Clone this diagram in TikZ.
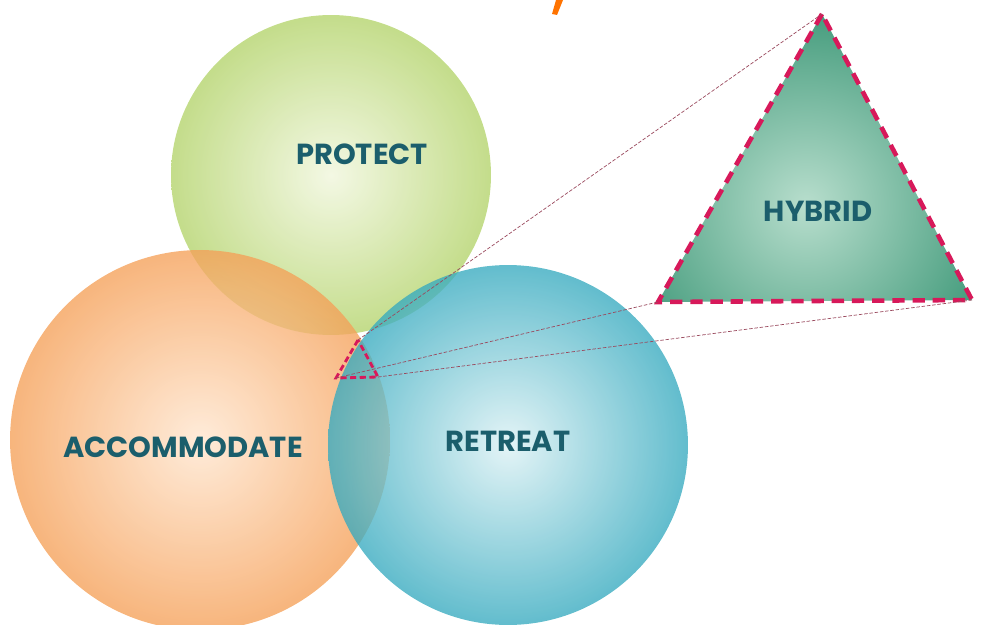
\documentclass[tikz,border=0pt]{standalone}
\usepackage{fontspec}
\newfontfamily\labelfont{Poppins}
\usetikzlibrary{calc}
\definecolor{protectout}{HTML}{B3D36A}
\definecolor{protectin}{HTML}{F0F6DC}
\definecolor{accomout}{HTML}{F5A058}
\definecolor{accomin}{HTML}{FFE6CF}
\definecolor{retreatout}{HTML}{36AABF}
\definecolor{retreatin}{HTML}{DCF1F4}
\definecolor{hybridout}{HTML}{3E9878}
\definecolor{hybridin}{HTML}{B8DECD}
\definecolor{labelteal}{HTML}{1B5E6C}
\definecolor{dashred}{HTML}{D7195A}
\definecolor{zoomline}{HTML}{9A4A5E}
\tikzset{
	vennlabel/.style={font=\labelfont\bfseries\fontsize{16.5}{16.5}\selectfont, text=labelteal},
	venncircle/.style={fill opacity=0.78},
	hybridedge/.style={draw=dashred, line width=2.6pt, dash pattern=on 7pt off 4.5pt, line join=miter},
	zoomray/.style={draw=zoomline, line width=0.4pt, dash pattern=on 2pt off 1pt}
}

\begin{document}
\begin{tikzpicture}[x=0.02cm, y=-0.02cm]
			%%%%% START %%%%%
			\useasboundingbox (0, 0) rectangle (987, 625);
			
			\shade[venncircle, inner color=protectin, outer color=protectout] (331, 175) circle (3.2cm);
			\shade[venncircle, inner color=accomin, outer color=accomout] (200, 440) circle (3.8cm);
			\shade[venncircle, inner color=retreatin, outer color=retreatout] (508, 445) circle (3.6cm);
			
			\fill[orange!90!red] (552, 14) -- (556, 0) -- (563, 0) -- (557, 15) -- cycle;
			
			% small triangle
			\coordinate (st) at (358, 340);
			\coordinate (sl) at (336, 378);
			\coordinate (sr) at (378, 377);
			
			% big triangle
			\coordinate (bt) at (822, 14);
			\coordinate (bl) at (658, 302);
			\coordinate (br) at (972, 300);
			
			\begin{scope}
				\clip (bt) -- (bl) -- (br) -- cycle;
				\shade[inner color=hybridin, outer color=hybridout] (806, 205) circle (4.1cm);
			\end{scope}
			\draw[hybridedge] (bt) -- (bl) -- (br) -- cycle;
			\draw[hybridedge, line width=1.6pt, dash pattern=on 3.5pt off 2pt] (st) -- (sl) -- (sr) -- cycle;
			
			\draw[zoomray] (st) -- (bt);
			\draw[zoomray] (sl) -- (bl);
			\draw[zoomray] (sr) -- (br);
			
			\node[vennlabel] (protect) at (362, 154) {PROTECT};
			\node[vennlabel] (accommodate) at (183, 447) {ACCOMMODATE};
			\node[vennlabel] (retreat) at (508, 441) {RETREAT};
			\node[vennlabel] (hybrid) at (818, 211) {HYBRID};
			
			%%%%% END %%%%%
		\end{tikzpicture}
\end{document}
